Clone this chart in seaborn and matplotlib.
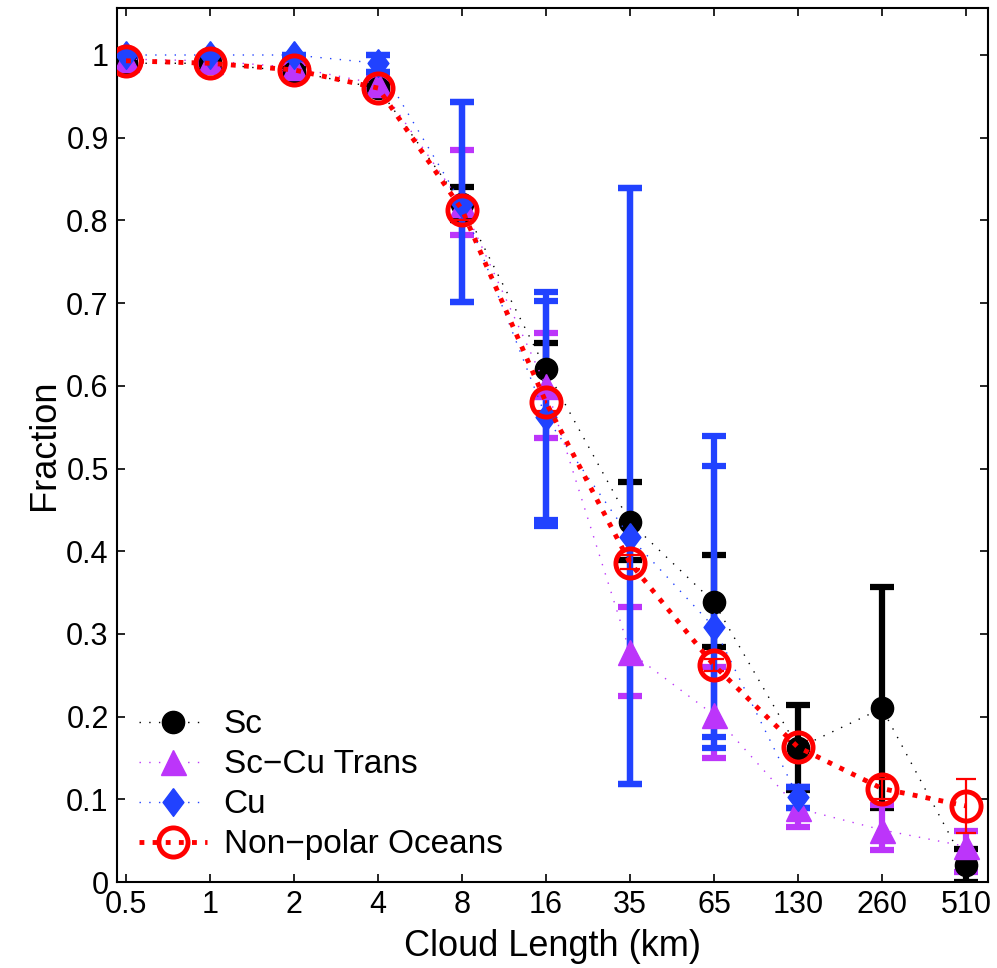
import numpy as np
import pandas as pd
import matplotlib
matplotlib.use("Agg")
import matplotlib.pyplot as plt
import seaborn as sns
from matplotlib.lines import Line2D

# ---------------- data ----------------
x_labels = ["0.5", "1", "2", "4", "8", "16", "35", "65", "130", "260", "510"]
x_pos = list(range(len(x_labels)))

sc_val = [0.99, 0.99, 0.98, 0.96, 0.82, 0.62, 0.435, 0.338, 0.162, 0.21, 0.02]
sc_lo  = [0.985, 0.985, 0.975, 0.955, 0.80, 0.59, 0.389, 0.284, 0.111, 0.089, 0.0]
sc_hi  = [0.995, 0.995, 0.985, 0.965, 0.84, 0.652, 0.484, 0.395, 0.214, 0.357, 0.04]

tr_val = [0.995, 0.993, 0.985, 0.965, 0.82, 0.60, 0.278, 0.202, 0.089, 0.063, 0.043]
tr_lo  = [0.99, 0.988, 0.98, 0.958, 0.782, 0.537, 0.225, 0.15, 0.067, 0.039, 0.012]
tr_hi  = [1.0, 0.998, 0.99, 0.972, 0.885, 0.664, 0.333, 0.26, 0.115, 0.093, 0.062]

cu_val = [1.0, 1.0, 1.0, 0.99, 0.82, 0.562, 0.417, 0.308, 0.103, np.nan, np.nan]
cu_lo  = [0.995, 0.995, 0.995, 0.98, 0.701, 0.430, 0.118, 0.162, 0.09, np.nan, np.nan]
cu_hi  = [1.0, 1.0, 1.0, 1.0, 0.943, 0.713, 0.839, 0.539, 0.115, np.nan, np.nan]
cu_lo2 = [0.995, 0.995, 0.995, 0.98, 0.701, 0.438, 0.118, 0.175, 0.09, np.nan, np.nan]
cu_hi2 = [1.0, 1.0, 1.0, 1.0, 0.943, 0.702, 0.839, 0.503, 0.115, np.nan, np.nan]

np_val = [0.993, 0.99, 0.982, 0.96, 0.813, 0.58, 0.386, 0.262, 0.163, 0.113, 0.092]
np_lo  = [0.988, 0.985, 0.977, 0.955, 0.80, 0.57, 0.378, 0.255, 0.155, 0.10, 0.059]
np_hi  = [0.998, 0.995, 0.987, 0.965, 0.825, 0.59, 0.395, 0.27, 0.17, 0.125, 0.125]

series_names = ["Sc", "Sc\u2212Cu Trans", "Cu", "Non\u2212polar Oceans"]

# ---------------- style ----------------
sns.set_theme(style="white")
plt.rcParams["font.family"] = ["Liberation Sans", "DejaVu Sans"]
plt.rcParams["axes.linewidth"] = 1.5
plt.rcParams["text.color"] = "black"
plt.rcParams["axes.labelcolor"] = "black"

BLACK = "#000000"
PURPLE = "#BC35FA"
BLUE = "#2142FF"
RED = "#FF0000"

diamond = [(0, 1), (0.75, 0), (0, -1), (-0.75, 0), (0, 1)]

MS_SC, MS_TR, MS_CU, MS_NP = 16, 18, 20, 21
DOT = (0, (1, 6))
RDOT = (0, (1, 1.7))

fig = plt.figure(figsize=(9.97, 9.68), dpi=100)
ax = fig.add_axes([117 / 997, 1 - 882 / 968, (988 - 117) / 997, (882 - 8) / 968])


def draw(vals, lo, hi, color, marker, ms, lw, ls, ebw, cap, capthick,
         mfc=None, mew=1.0, extra=None):
    v = np.array(vals, float)
    l = np.array(lo, float)
    h = np.array(hi, float)
    ax.errorbar(x_pos, v, yerr=[v - l, h - v], fmt="none", ecolor=color,
                elinewidth=ebw, capsize=cap, capthick=capthick, zorder=2)
    if extra is not None:
        l2 = np.array(extra[0], float)
        h2 = np.array(extra[1], float)
        ax.errorbar(x_pos, v, yerr=[v - l2, h2 - v], fmt="none", ecolor=color,
                    elinewidth=ebw, capsize=cap, capthick=capthick, zorder=2)
    df = pd.DataFrame({"x": x_pos, "y": v}).dropna()
    sns.lineplot(data=df, x="x", y="y", ax=ax, color=color, linewidth=lw,
                 linestyle=ls, marker=marker, markersize=ms,
                 markerfacecolor=(mfc if mfc is not None else color),
                 markeredgecolor=color, markeredgewidth=mew, zorder=3,
                 legend=False, errorbar=None)


draw(sc_val, sc_lo, sc_hi, BLACK, "o", MS_SC, 1.0, DOT, 4.5, 8.5, 4.5)
draw(tr_val, tr_lo, tr_hi, PURPLE, "^", MS_TR, 1.0, DOT, 4.5, 8.5, 4.5)
draw(cu_val, cu_lo, cu_hi, BLUE, diamond, MS_CU, 1.0, DOT, 4.5, 8.5, 4.5,
     extra=(cu_lo2, cu_hi2))
draw(np_val, np_lo, np_hi, RED, "o", MS_NP, 3.5, RDOT, 1.6, 7, 1.6,
     mfc="none", mew=3.5)

# legend
handles = [
    Line2D([], [], color=BLACK, lw=1.0, ls=DOT, marker="o", ms=MS_SC),
    Line2D([], [], color=PURPLE, lw=1.0, ls=DOT, marker="^", ms=MS_TR),
    Line2D([], [], color=BLUE, lw=1.0, ls=DOT, marker=diamond, ms=MS_CU),
    Line2D([], [], color=RED, lw=3.5, ls=RDOT, marker="o", ms=MS_NP,
           mfc="none", mew=3.5),
]
ax.legend(handles, series_names, loc="lower left", frameon=False,
          fontsize=24, numpoints=1, handlelength=2.05, handletextpad=0.5,
          labelspacing=0.27, borderaxespad=0.25, bbox_to_anchor=(0.0, 0.0),
          labelcolor="black")

# axes
ax.set_xlim(-9 / 84, 10 + 22 / 84)
ax.set_ylim(0, (882 - 8) / 827)
ax.set_xticks(x_pos)
ax.set_xticklabels(x_labels)
yt = [round(0.1 * i, 1) for i in range(11)]
ax.set_yticks(yt)
ax.set_yticklabels(["0" if t == 0 else ("1" if t == 1 else f"{t:g}") for t in yt])
ax.tick_params(axis="both", which="major", direction="in", length=6, width=1.2,
               labelsize=22, top=True, right=True, bottom=True, left=True,
               colors="black", pad=6)
for s in ax.spines.values():
    s.set_color("black")
    s.set_linewidth(1.5)
ax.set_xlabel("Cloud Length (km)", fontsize=26, labelpad=6, color="black")
ax.set_ylabel("Fraction", fontsize=26, labelpad=3, color="black")

fig.savefig("out.png", dpi=100)
